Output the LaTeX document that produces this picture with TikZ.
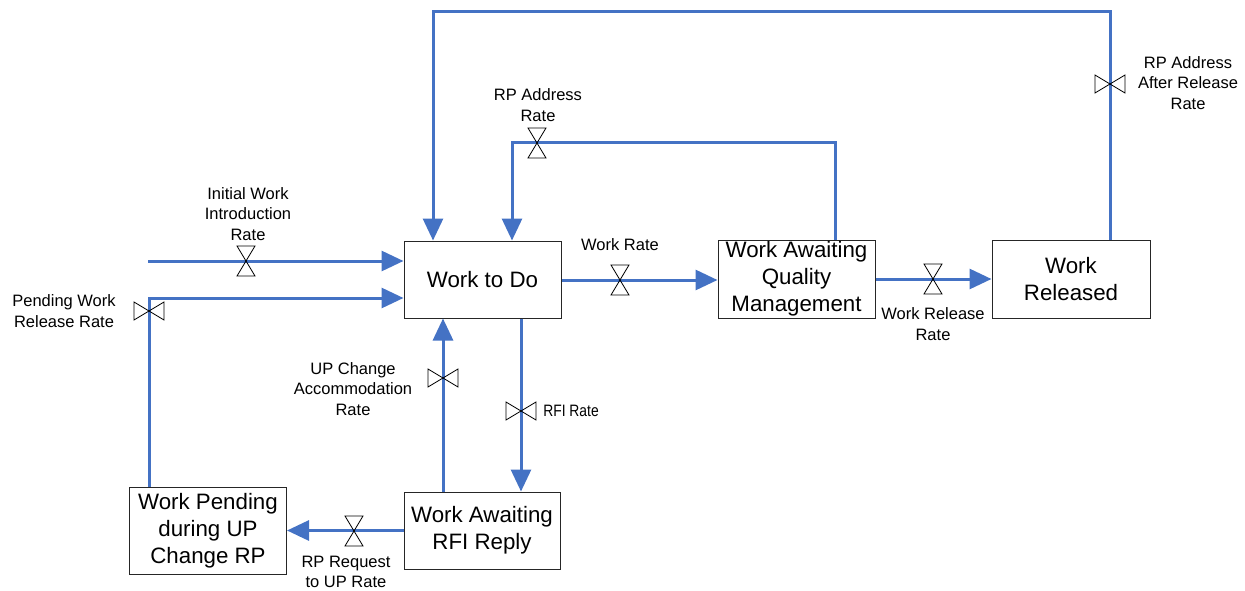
\documentclass[tikz,border=0pt]{standalone}
\usepackage{fontspec}
\setmainfont{Liberation Sans}
\newfontfamily\narrowfont[FakeStretch=0.84]{Liberation Sans}
\usetikzlibrary{arrows.meta}
\definecolor{flowblue}{RGB}{68,114,196}
\tikzset{
  flow/.style={draw=flowblue, line width=3pt},
  flowarrow/.style={flow, -{Triangle[length=22pt,width=20pt]}},
  stock/.style={draw=black!85, line width=1pt, align=center, inner sep=0pt,
     font=\fontsize{22.3}{27}\selectfont},
  lbl/.style={align=center, inner sep=0pt, font=\fontsize{16.5}{20.5}\selectfont},
  valveline/.style={draw=black, line width=0.8pt},
  vvalve/.pic={\draw[valveline] (-9,-15) -- (9,-15) -- (-9,15) -- (9,15) -- cycle;},
  hvalve/.pic={\draw[valveline] (-15,-9) -- (-15,9) -- (15,-9) -- (15,9) -- cycle;}
}
\begin{document}
\begin{tikzpicture}[x=1pt,y=-1pt]
\useasboundingbox (0,0) rectangle (1245,591);
% stocks
\node[stock, minimum width=157pt, minimum height=77pt] (wtd) at (482.5,279.5) {Work to Do};
\node[stock, minimum width=157pt, minimum height=78pt] (waqm) at (796.5,279) {Work Awaiting\\Quality\\Management};
\node[stock, minimum width=158pt, minimum height=78pt] (wr) at (1071,279) {Work\\Released};
\node[stock, minimum width=156pt, minimum height=77pt] (warr) at (482,530.5) {Work Awaiting\\RFI Reply};
\node[stock, minimum width=157pt, minimum height=87pt] (wp) at (208,531) {Work Pending\\during UP\\Change RP};
% helper coordinates
\coordinate (iw) at (148,261);
\coordinate (pw) at (149,298);
\coordinate (wrt) at (600,280);
\coordinate (ra1) at (835,143);
\coordinate (ra2) at (512,143);
\coordinate (ar1) at (1110,12);
\coordinate (ar2) at (433,12);
\coordinate (rfi) at (521,400);
\coordinate (upc) at (443,400);
% connectors
\draw[flowarrow] (iw) -- (iw -| wtd.west);
\draw[flowarrow] (pw |- wp.north) -- (pw) -- (pw -| wtd.west);
\draw[flowarrow] (wrt -| wtd.east) -- (wrt -| waqm.west);
\draw[flowarrow] (waqm.east) -- (wr.west);
\draw[flowarrow] (ra1 |- waqm.north) -- (ra1) -- (ra2) -- (ra2 |- wtd.north);
\draw[flowarrow] (ar1 |- wr.north) -- (ar1) -- (ar2) -- (ar2 |- wtd.north);
\draw[flowarrow] (rfi |- wtd.south) -- (rfi |- warr.north);
\draw[flowarrow] (upc |- warr.north) -- (upc |- wtd.south);
\draw[flowarrow] (warr.west) -- (warr.west -| wp.east);
% valves
\pic at (246,261) {vvalve};
\pic at (149,311) {hvalve};
\pic at (620,280) {vvalve};
\pic at (933,279) {vvalve};
\pic at (537,143) {vvalve};
\pic at (1110,84) {hvalve};
\pic at (521,411) {hvalve};
\pic at (443,378) {hvalve};
\pic at (354,531) {vvalve};
% labels
\node[lbl] (l1) at (248,214) {Initial Work\\Introduction\\Rate};
\node[lbl] (l2) at (64,311) {Pending Work\\Release Rate};
\node[lbl] (l3) at (538,105) {RP Address\\Rate};
\node[lbl] (l4) at (620,245) {Work Rate};
\node[lbl] (l5) at (933,324) {Work Release\\Rate};
\node[lbl] (l6) at (1188,83) {RP Address\\After Release\\Rate};
\node[lbl] (l7) at (353,389) {UP Change\\Accommodation\\Rate};
\node[lbl, font=\narrowfont\fontsize{16.5}{20.5}\selectfont] (l8) at (571,411) {RFI Rate};
\node[lbl] (l9) at (346,572) {RP Request\\to UP Rate};
\end{tikzpicture}
\end{document}
